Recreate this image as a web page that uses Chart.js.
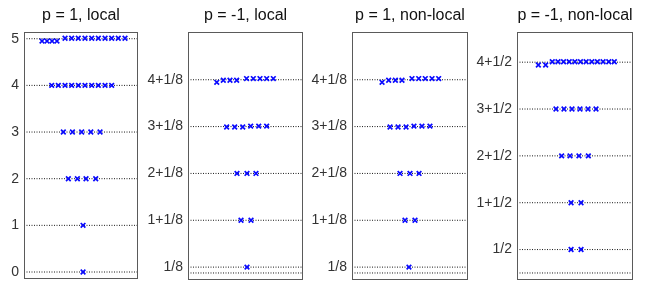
<!DOCTYPE html>
<html>
<head>
<meta charset="utf-8">
<script src="https://cdn.jsdelivr.net/npm/chart.js@4/dist/chart.umd.min.js"></script>
<style>
  body { margin: 0; background: #fff; width: 647px; height: 283px; overflow: hidden; position: relative; }
  canvas { position: absolute; top: 0; }
</style>
</head>
<body>
<canvas id="c1"></canvas>
<canvas id="c2"></canvas>
<canvas id="c3"></canvas>
<canvas id="c4"></canvas>
<script>
// titres des panneaux
const titles = ['p = 1, local', 'p = -1, local', 'p = 1, non-local', 'p = -1, non-local'];

// panneau 1 : p = 1, local
const p1Lines = [0, 1, 2, 3, 4, 5];
const p1TickVals = [0, 1, 2, 3, 4, 5];
const p1TickLabels = ['0', '1', '2', '3', '4', '5'];
const p1X = [51.8, 51.8,
  38.9, 46.8, 54.4, 62.9,
  34.5, 42.5, 50.6, 58.6, 66.7,
  24.3, 30.1, 36.0, 41.8, 47.7, 53.5, 59.4, 65.2, 71.1, 76.9,
  15.8, 20.2, 24.6, 28.9, 36.0, 41.8, 47.6, 53.5, 59.4, 65.2, 71.1, 76.9, 82.7, 88.6];
const p1Y = [0, 1,
  2, 2, 2, 2,
  3, 3, 3, 3, 3,
  4, 4, 4, 4, 4, 4, 4, 4, 4, 4,
  4.95, 4.95, 4.95, 4.95, 5.01, 5.01, 5.01, 5.01, 5.01, 5.01, 5.01, 5.01, 5.01, 5.01];

// panneau 2 : p = -1, local
const p2Lines = [0, 0.125, 1.125, 2.125, 3.125, 4.125];
const p2TickVals = [0.125, 1.125, 2.125, 3.125, 4.125];
const p2TickLabels = ['1/8', '1+1/8', '2+1/8', '3+1/8', '4+1/8'];
const p2X = [51.3,
  46.1, 54.8,
  42.6, 51.3, 59.1,
  33.6, 40.6, 47.6, 54.5, 61.5, 68.4,
  25.0, 30.7, 36.5, 42.3, 50.9, 56.8, 62.6, 68.4, 74.2];
const p2Y = [0.125,
  1.125, 1.125,
  2.125, 2.125, 2.125,
  3.115, 3.115, 3.115, 3.135, 3.135, 3.135,
  4.07, 4.115, 4.115, 4.115, 4.15, 4.15, 4.15, 4.15, 4.15];

// panneau 3 : p = 1, non-local
const p3Lines = [0, 0.125, 1.125, 2.125, 3.125, 4.125];
const p3TickVals = [0.125, 1.125, 2.125, 3.125, 4.125];
const p3TickLabels = ['1/8', '1+1/8', '2+1/8', '3+1/8', '4+1/8'];
const p3X = [49.1,
  45.7, 54.3,
  41.4, 50.0, 57.8,
  32.8, 39.7, 46.6, 53.4, 60.3, 67.2,
  25.9, 31.6, 37.4, 43.1, 51.7, 57.5, 63.2, 69.0, 74.7];
const p3Y = [0.125,
  1.125, 1.125,
  2.125, 2.125, 2.125,
  3.115, 3.115, 3.115, 3.135, 3.135, 3.135,
  4.07, 4.115, 4.115, 4.115, 4.15, 4.15, 4.15, 4.15, 4.15];

// panneau 4 : p = -1, non-local
const p4Lines = [0, 0.5, 1.5, 2.5, 3.5, 4.5];
const p4TickVals = [0.5, 1.5, 2.5, 3.5, 4.5];
const p4TickLabels = ['1/2', '1+1/2', '2+1/2', '3+1/2', '4+1/2'];
const p4X = [46.6, 55.2,
  46.6, 55.2,
  38.5, 45.7, 53.4, 61.5,
  33.6, 40.5, 47.4, 54.3, 61.2, 68.1,
  18.4, 24.7, 30.4, 35.3, 40.1, 45.0, 49.9, 54.7, 59.6, 64.5, 69.3, 74.2, 79.1, 83.9];
const p4Y = [0.5, 0.5,
  1.5, 1.5,
  2.5, 2.5, 2.5, 2.5,
  3.5, 3.5, 3.5, 3.5, 3.5, 3.5,
  4.44, 4.44, 4.51, 4.51, 4.51, 4.51, 4.51, 4.51, 4.51, 4.51, 4.51, 4.51, 4.51, 4.51];

// cadre autour de la zone du graphique
const framePlugin = {
  id: 'frame',
  afterDraw(chart) {
    const a = chart.chartArea;
    const ctx = chart.ctx;
    ctx.save();
    ctx.strokeStyle = '#5a5a5a';
    ctx.lineWidth = 1;
    ctx.strokeRect(Math.round(a.left) + 0.5, Math.round(a.top) + 0.5,
      Math.round(a.right - a.left) - 1, Math.round(a.bottom - a.top) - 1);
    ctx.restore();
  }
};

function makePanel(id, left, axisW, areaW, padBottom, title, lines, tickVals, tickLabels, xs, ys) {
  const canvas = document.getElementById(id);
  canvas.width = axisW + areaW + 2;
  canvas.height = 283;
  canvas.style.left = left + 'px';

  const datasets = [{
    type: 'scatter',
    data: xs.map((x, i) => ({ x: x, y: ys[i] })),
    pointStyle: 'crossRot',
    pointRadius: 3.3,
    borderColor: '#0a0aff',
    pointBorderWidth: 1.7,
    showLine: false,
    order: 0
  }];
  lines.forEach(v => {
    datasets.push({
      type: 'line',
      data: [{ x: 0, y: v }, { x: 100, y: v }],
      borderColor: '#1a1a1a',
      borderWidth: 1,
      borderDash: [1, 1.5],
      pointRadius: 0,
      order: 1
    });
  });

  new Chart(canvas, {
    data: { datasets: datasets },
    options: {
      responsive: false,
      animation: false,
      layout: { autoPadding: false, padding: { left: 0, right: 2, top: 0, bottom: padBottom } },
      plugins: {
        legend: { display: false },
        tooltip: { enabled: false },
        title: {
          display: true,
          text: title,
          fullSize: false,
          color: '#111',
          font: { family: 'Liberation Sans', size: 16, weight: 'normal' },
          padding: { top: 6, bottom: 7 }
        }
      },
      scales: {
        x: { type: 'linear', min: 0, max: 100, display: false },
        y: {
          type: 'linear',
          min: -0.15,
          max: 5.14,
          grid: { display: false, drawTicks: false },
          border: { display: false },
          afterBuildTicks: scale => { scale.ticks = tickVals.map(v => ({ value: v })); },
          afterFit: scale => {
            scale.width = axisW;
            scale.paddingTop = 0;
            scale.paddingBottom = 0;
          },
          ticks: {
            padding: 5,
            color: '#333',
            font: { family: 'Liberation Sans', size: 14 },
            callback: (value, index) => tickLabels[index]
          }
        }
      }
    },
    plugins: [framePlugin]
  });
}

makePanel('c1', 0, 24, 114, 4, titles[0], p1Lines, p1TickVals, p1TickLabels, p1X, p1Y);
makePanel('c2', 140, 48, 115, 3, titles[1], p2Lines, p2TickVals, p2TickLabels, p2X, p2Y);
makePanel('c3', 305, 47, 116, 3, titles[2], p3Lines, p3TickVals, p3TickLabels, p3X, p3Y);
makePanel('c4', 470, 47, 116, 3, titles[3], p4Lines, p4TickVals, p4TickLabels, p4X, p4Y);
</script>
</body>
</html>
